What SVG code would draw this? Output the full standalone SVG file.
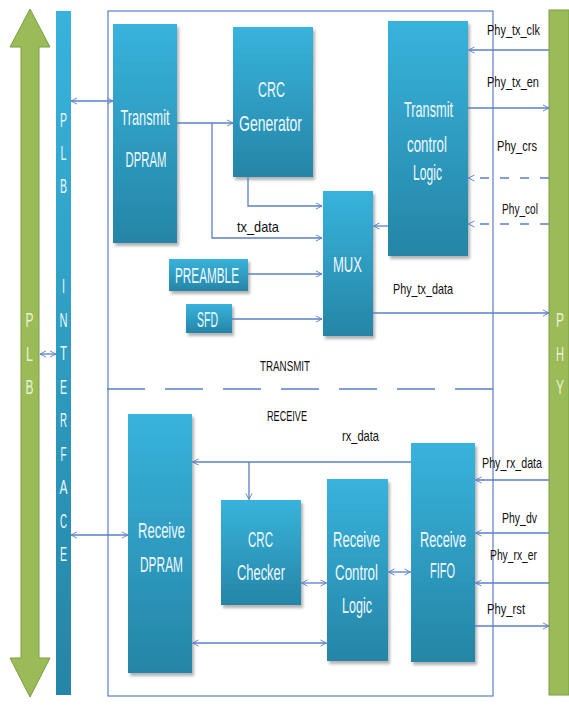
<svg xmlns="http://www.w3.org/2000/svg" width="569" height="713" viewBox="0 0 569 713">
<defs>
<linearGradient id="blue" x1="0" y1="0" x2="0" y2="1">
<stop offset="0" stop-color="#38b3dc"/>
<stop offset="1" stop-color="#2585a6"/>
</linearGradient>
<filter id="sh" x="-20%" y="-20%" width="150%" height="150%">
<feDropShadow dx="2" dy="3" stdDeviation="1.8" flood-color="#000" flood-opacity="0.3"/>
</filter>
<marker id="ah" viewBox="0 0 10 10" refX="9.6" refY="5" markerWidth="7" markerHeight="10" markerUnits="userSpaceOnUse" orient="auto-start-reverse">
<path d="M1,0.6 L9.5,5 L1,9.4" fill="none" stroke="#5b7fc7" stroke-width="1.3"/>
</marker>
<style>
.box{fill:url(#blue);filter:url(#sh);}
.bl{font-family:"Liberation Sans",Arial,sans-serif;font-size:22px;fill:#eef8fc;text-anchor:middle;}
.sig{font-family:"Liberation Sans",Arial,sans-serif;font-size:14.5px;fill:#111;text-anchor:middle;}
.vl{font-family:"Liberation Sans",Arial,sans-serif;font-size:20px;text-anchor:middle;}
.w{fill:#eef8fc;}
.g{fill:#eaf2d6;}
.ln{fill:none;stroke:#5b7fc7;stroke-width:1.3;}
.a{marker-end:url(#ah);}
.aa{marker-start:url(#ah);marker-end:url(#ah);}
.dash{stroke-dasharray:9,11;}
</style>
</defs>

<g id="plb-arrow">
<path d="M30,9 L50,47 L39,47 L39,658 L50,658 L30,697 L10,658 L21,658 L21,47 L10,47 Z" fill="#9bbb59" stroke="#7e9c42" stroke-width="1"/>
<text class="vl g" x="29.5" y="327" textLength="8" lengthAdjust="spacingAndGlyphs">P</text>
<text class="vl g" x="29.5" y="361" textLength="7" lengthAdjust="spacingAndGlyphs">L</text>
<text class="vl g" x="29.5" y="394" textLength="8" lengthAdjust="spacingAndGlyphs">B</text>
</g>

<g id="plb-interface">
<rect x="56" y="11" width="15" height="684" fill="url(#blue)"/>
<g class="vl w">
<text x="63.5" y="127" textLength="7" lengthAdjust="spacingAndGlyphs">P</text>
<text x="63.5" y="160" textLength="6" lengthAdjust="spacingAndGlyphs">L</text>
<text x="63.5" y="193" textLength="7" lengthAdjust="spacingAndGlyphs">B</text>
<text x="63.5" y="293" textLength="3" lengthAdjust="spacingAndGlyphs">I</text>
<text x="63.5" y="326.5" textLength="8" lengthAdjust="spacingAndGlyphs">N</text>
<text x="63.5" y="360" textLength="7" lengthAdjust="spacingAndGlyphs">T</text>
<text x="63.5" y="393.5" textLength="7" lengthAdjust="spacingAndGlyphs">E</text>
<text x="63.5" y="427" textLength="7" lengthAdjust="spacingAndGlyphs">R</text>
<text x="63.5" y="460.5" textLength="6" lengthAdjust="spacingAndGlyphs">F</text>
<text x="63.5" y="494" textLength="8" lengthAdjust="spacingAndGlyphs">A</text>
<text x="63.5" y="527.5" textLength="7" lengthAdjust="spacingAndGlyphs">C</text>
<text x="63.5" y="561" textLength="7" lengthAdjust="spacingAndGlyphs">E</text>
</g>
</g>

<g id="phy">
<rect x="549" y="10" width="20" height="685" fill="#9bbb59" stroke="#7e9c42" stroke-width="1"/>
<text class="vl g" x="560" y="327" textLength="8" lengthAdjust="spacingAndGlyphs">P</text>
<text class="vl g" x="560" y="361" textLength="8" lengthAdjust="spacingAndGlyphs">H</text>
<text class="vl g" x="560" y="394" textLength="8" lengthAdjust="spacingAndGlyphs">Y</text>
</g>

<g id="frame">
<rect x="108" y="11" width="385" height="685" fill="none" stroke="#5b7fc7" stroke-width="1.2"/>
<line x1="107" y1="389" x2="493" y2="389" stroke="#5b7fc7" stroke-width="1.3" stroke-dasharray="38,20"/>
<text class="sig" x="285" y="371" font-size="14" textLength="50" lengthAdjust="spacingAndGlyphs">TRANSMIT</text>
<text class="sig" x="287" y="421" font-size="14" textLength="40" lengthAdjust="spacingAndGlyphs">RECEIVE</text>
</g>

<g id="transmit-dpram">
<rect class="box" x="113" y="24" width="64" height="219"/>
<text class="bl" x="145" y="125" textLength="49" lengthAdjust="spacingAndGlyphs">Transmit</text>
<text class="bl" x="146" y="167" textLength="41" lengthAdjust="spacingAndGlyphs">DPRAM</text>
</g>

<g id="crc-generator">
<rect class="box" x="233" y="27" width="80" height="150"/>
<text class="bl" x="271.5" y="97" textLength="27" lengthAdjust="spacingAndGlyphs">CRC</text>
<text class="bl" x="270.5" y="131" textLength="63" lengthAdjust="spacingAndGlyphs">Generator</text>
</g>

<g id="transmit-control-logic">
<rect class="box" x="388" y="21" width="80" height="235"/>
<text class="bl" x="428.5" y="117" textLength="49" lengthAdjust="spacingAndGlyphs">Transmit</text>
<text class="bl" x="427" y="152" textLength="40" lengthAdjust="spacingAndGlyphs">control</text>
<text class="bl" x="427.5" y="180" textLength="29" lengthAdjust="spacingAndGlyphs">Logic</text>
</g>

<g id="mux">
<rect class="box" x="323" y="191" width="50" height="145"/>
<text class="bl" x="347.5" y="272" textLength="29" lengthAdjust="spacingAndGlyphs">MUX</text>
</g>

<g id="preamble">
<rect class="box" x="169" y="259" width="79" height="32"/>
<text class="bl" x="207" y="283" textLength="64" lengthAdjust="spacingAndGlyphs">PREAMBLE</text>
</g>

<g id="sfd">
<rect class="box" x="186" y="304" width="46" height="29"/>
<text class="bl" x="207.5" y="327" textLength="21" lengthAdjust="spacingAndGlyphs">SFD</text>
</g>

<g id="receive-dpram">
<rect class="box" x="128" y="414" width="64" height="259"/>
<text class="bl" x="161.5" y="538" textLength="47" lengthAdjust="spacingAndGlyphs">Receive</text>
<text class="bl" x="161.5" y="572" textLength="43" lengthAdjust="spacingAndGlyphs">DPRAM</text>
</g>

<g id="crc-checker">
<rect class="box" x="221" y="500" width="80" height="105"/>
<text class="bl" x="260.5" y="547" textLength="25" lengthAdjust="spacingAndGlyphs">CRC</text>
<text class="bl" x="261" y="580" textLength="48" lengthAdjust="spacingAndGlyphs">Checker</text>
</g>

<g id="receive-control-logic">
<rect class="box" x="327" y="479" width="61" height="182"/>
<text class="bl" x="356.5" y="547" textLength="47" lengthAdjust="spacingAndGlyphs">Receive</text>
<text class="bl" x="356.5" y="580" textLength="43" lengthAdjust="spacingAndGlyphs">Control</text>
<text class="bl" x="357" y="613" textLength="30" lengthAdjust="spacingAndGlyphs">Logic</text>
</g>

<g id="receive-fifo">
<rect class="box" x="411" y="443" width="64" height="219"/>
<text class="bl" x="443" y="547" textLength="46" lengthAdjust="spacingAndGlyphs">Receive</text>
<text class="bl" x="442.5" y="578" textLength="25" lengthAdjust="spacingAndGlyphs">FIFO</text>
</g>

<g id="connectors">
<line class="ln aa" x1="40" y1="354" x2="56" y2="354"/>
<line class="ln aa" x1="71" y1="101" x2="113" y2="101"/>
<line class="ln aa" x1="71" y1="535" x2="128" y2="535"/>
<polyline class="ln a" points="177,123 233,123"/>
<polyline class="ln a" points="212,123 212,238 322,238"/>
<polyline class="ln a" points="248,177 248,206 322,206"/>
<line class="ln a" x1="388" y1="226" x2="373.5" y2="226"/>
<line class="ln a" x1="248" y1="274" x2="322" y2="274"/>
<line class="ln a" x1="232" y1="319" x2="322" y2="319"/>
<line class="ln a" x1="373" y1="313" x2="549" y2="313"/>
<line class="ln a" x1="549" y1="50" x2="468.5" y2="50"/>
<line class="ln a" x1="468" y1="108" x2="549" y2="108"/>
<line class="ln a dash" x1="549" y1="178" x2="468.5" y2="178"/>
<line class="ln a dash" x1="549" y1="224" x2="468.5" y2="224"/>
<line class="ln a" x1="411" y1="462" x2="192.5" y2="462"/>
<line class="ln a" x1="249" y1="462" x2="249" y2="499.5"/>
<line class="ln aa" x1="301.5" y1="583" x2="326.5" y2="583"/>
<line class="ln aa" x1="388.5" y1="572" x2="410.5" y2="572"/>
<line class="ln aa" x1="192.5" y1="643" x2="326.5" y2="643"/>
<line class="ln a" x1="549" y1="480" x2="475.5" y2="480"/>
<line class="ln a" x1="549" y1="533" x2="475.5" y2="533"/>
<line class="ln a" x1="549" y1="583" x2="475.5" y2="583"/>
<line class="ln a" x1="475" y1="626" x2="549" y2="626"/>
</g>

<g id="labels">
<text class="sig" x="513.5" y="35" textLength="53" lengthAdjust="spacingAndGlyphs">Phy_tx_clk</text>
<text class="sig" x="513" y="87" textLength="52" lengthAdjust="spacingAndGlyphs">Phy_tx_en</text>
<text class="sig" x="517" y="151" textLength="40" lengthAdjust="spacingAndGlyphs">Phy_crs</text>
<text class="sig" x="520" y="214" textLength="36" lengthAdjust="spacingAndGlyphs">Phy_col</text>
<text class="sig" x="258" y="232" textLength="42" lengthAdjust="spacingAndGlyphs">tx_data</text>
<text class="sig" x="423" y="294" textLength="60" lengthAdjust="spacingAndGlyphs">Phy_tx_data</text>
<text class="sig" x="360.5" y="441" textLength="37" lengthAdjust="spacingAndGlyphs">rx_data</text>
<text class="sig" x="512" y="468" textLength="60" lengthAdjust="spacingAndGlyphs">Phy_rx_data</text>
<text class="sig" x="519.5" y="523" textLength="35" lengthAdjust="spacingAndGlyphs">Phy_dv</text>
<text class="sig" x="513.5" y="560" textLength="47" lengthAdjust="spacingAndGlyphs">Phy_rx_er</text>
<text class="sig" x="506" y="614" textLength="38" lengthAdjust="spacingAndGlyphs">Phy_rst</text>
</g>
</svg>
